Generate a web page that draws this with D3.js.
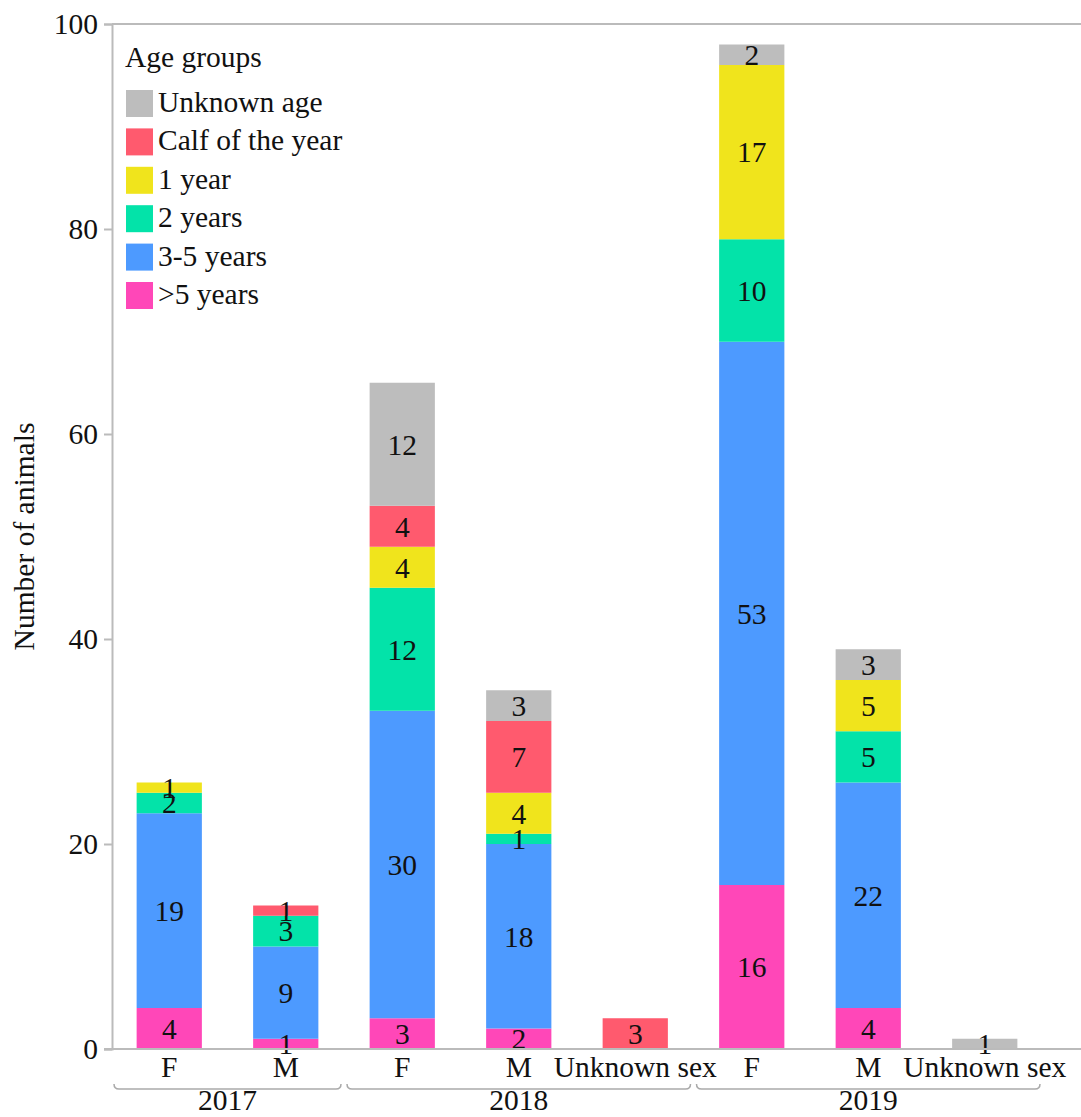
<!DOCTYPE html>
<html>
<head>
<meta charset="utf-8">
<script src="https://cdn.jsdelivr.net/npm/d3@7"></script>
<style>
  html, body { margin: 0; padding: 0; background: #fff; }
  svg text { font-family: "Liberation Serif", "Tinos", "Times New Roman", "DejaVu Serif", serif !important; fill: #111; }
</style>
</head>
<body>
<svg id="chart" width="1081" height="1117"></svg>
<script>
// ---- data ----
const years = ["2017", "2018", "2019"];
const sexes = [["F", "M"], ["F", "M", "Unknown sex"], ["F", "M", "Unknown sex"]];
// age groups, bottom of stack to top
const ageGroups = [">5 years", "3-5 years", "2 years", "1 year", "Calf of the year", "Unknown age"];
const legendOrder = ["Unknown age", "Calf of the year", "1 year", "2 years", "3-5 years", ">5 years"];
const ageColors = ["#ff47b8", "#4d9aff", "#03e3a9", "#f0e41c", "#ff5a6e", "#bdbdbd"];
// values per bar, in ageGroups order
const v2017F = [4, 19, 2, 1, 0, 0];
const v2017M = [1, 9, 3, 0, 1, 0];
const v2018F = [3, 30, 12, 4, 4, 12];
const v2018M = [2, 18, 1, 4, 7, 3];
const v2018U = [0, 0, 0, 0, 3, 0];
const v2019F = [16, 53, 10, 17, 0, 2];
const v2019M = [4, 22, 5, 5, 0, 3];
const v2019U = [0, 0, 0, 0, 0, 1];
const barValues = [v2017F, v2017M, v2018F, v2018M, v2018U, v2019F, v2019M, v2019U];
const yTicks = [0, 20, 40, 60, 80, 100];
const yLabel = "Number of animals";
const legendTitle = "Age groups";

// ---- build bars ----
const bars = [];
let k = 0;
years.forEach((yr, gi) => {
  sexes[gi].forEach(sx => {
    bars.push({ key: yr + "|" + sx, year: yr, sex: sx, values: barValues[k++] });
  });
});

const svg = d3.select("#chart");
const axisColor = "#bbbbbb";
const fs = 29.5;
const ff = '"Liberation Serif", "Tinos", "Times New Roman", "DejaVu Serif", serif';

const x = d3.scaleBand().domain(bars.map(b => b.key)).range([111, 1043])
  .paddingInner(0.44).paddingOuter(0.22);
const y = d3.scaleLinear().domain([0, 100]).range([1049, 24]);
const color = d3.scaleOrdinal().domain(ageGroups).range(ageColors);

// stacked segments
const segs = [];
bars.forEach(b => {
  let acc = 0;
  b.values.forEach((v, i) => {
    if (v > 0) segs.push({ bar: b, group: ageGroups[i], v, y0: acc, y1: acc + v });
    acc += v;
  });
});

svg.append("g").selectAll("rect").data(segs).join("rect")
  .attr("x", d => x(d.bar.key))
  .attr("width", x.bandwidth())
  .attr("y", d => y(d.y1))
  .attr("height", d => y(d.y0) - y(d.y1))
  .attr("fill", d => color(d.group));

svg.append("g").selectAll("text").data(segs).join("text")
  .attr("x", d => x(d.bar.key) + x.bandwidth() / 2)
  .attr("y", d => y((d.y0 + d.y1) / 2))
  .attr("dy", "0.35em")
  .attr("text-anchor", "middle")
  .attr("font-family", ff)
  .attr("font-size", fs)
  .text(d => d.v);

// y axis
const yAxis = svg.append("g").attr("transform", "translate(112,0)")
  .call(d3.axisLeft(y).tickValues(yTicks).tickSize(8).tickPadding(6).tickFormat(d3.format("d")));
yAxis.attr("font-family", ff);
yAxis.select(".domain").attr("stroke", axisColor).attr("stroke-width", 2);
yAxis.selectAll(".tick line").attr("stroke", axisColor).attr("stroke-width", 2);
yAxis.selectAll(".tick text").attr("font-size", fs).attr("font-family", ff).attr("fill", "#111");

// top and bottom frame lines
svg.append("line").attr("x1", 112).attr("x2", 1081).attr("y1", y(100)).attr("y2", y(100))
  .attr("stroke", axisColor).attr("stroke-width", 2);
svg.append("line").attr("x1", 104).attr("x2", 1081).attr("y1", y(0)).attr("y2", y(0))
  .attr("stroke", axisColor).attr("stroke-width", 2);

// y label
svg.append("text")
  .attr("transform", `translate(34,${(y(0) + y(100)) / 2}) rotate(-90)`)
  .attr("text-anchor", "middle")
  .attr("font-family", ff)
  .attr("font-size", fs)
  .text(yLabel);

// x sub labels
svg.append("g").selectAll("text").data(bars).join("text")
  .attr("x", d => x(d.key) + x.bandwidth() / 2)
  .attr("y", 1077)
  .attr("text-anchor", "middle")
  .attr("font-family", ff)
  .attr("font-size", fs)
  .text(d => d.sex);

// year brackets
years.forEach(yr => {
  const bs = bars.filter(b => b.year === yr);
  const step = x.step();
  const x0 = x(bs[0].key) - (step - x.bandwidth()) / 2 + 3;
  const x1 = x(bs[bs.length - 1].key) + x.bandwidth() + (step - x.bandwidth()) / 2 - 3;
  const by = 1089;
  svg.append("path")
    .attr("d", `M${x0},${by - 5} Q${x0},${by} ${x0 + 5},${by} L${x1 - 5},${by} Q${x1},${by} ${x1},${by - 5}`)
    .attr("fill", "none").attr("stroke", "#aaaaaa").attr("stroke-width", 1.5);
  svg.append("text")
    .attr("x", (x0 + x1) / 2)
    .attr("y", 1110)
    .attr("text-anchor", "middle")
    .attr("font-family", ff)
    .attr("font-size", fs)
    .text(yr);
});

// legend
const lg = svg.append("g");
lg.append("text").attr("x", 125).attr("y", 67).attr("font-family", ff).attr("font-size", fs).text(legendTitle);
legendOrder.forEach((name, i) => {
  const top = 90 + i * 38.4;
  lg.append("rect").attr("x", 126).attr("y", top).attr("width", 27).attr("height", 27)
    .attr("fill", color(name));
  lg.append("text").attr("x", 158).attr("y", top + 22).attr("font-family", ff).attr("font-size", fs).text(name);
});
</script>
</body>
</html>
